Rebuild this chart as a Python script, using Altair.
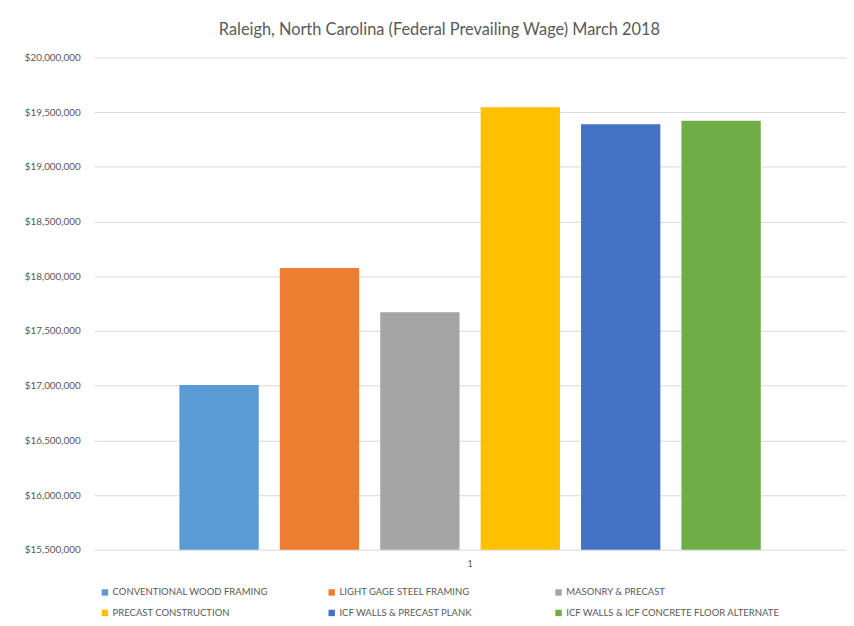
import altair as alt
import pandas as pd

TITLE = "Raleigh, North Carolina (Federal Prevailing Wage) March 2018"
series = [
    "CONVENTIONAL WOOD FRAMING",
    "LIGHT GAGE STEEL FRAMING",
    "MASONRY & PRECAST",
    "PRECAST CONSTRUCTION",
    "ICF WALLS & PRECAST PLANK",
    "ICF WALLS & ICF CONCRETE FLOOR ALTERNATE",
]
values = [17005000, 18075000, 17672000, 19545000, 19390000, 19422000]
colors = ["#5B9BD5", "#ED7D31", "#A5A5A5", "#FFC000", "#4472C4", "#70AD47"]
group = ["1"] * 6
y_min, y_max = 15500000, 20000000
y_ticks = list(range(15500000, 20000001, 500000))

df = pd.DataFrame({"group": group, "series": series, "value": values})
df["base"] = y_min

FONT = "Lato"
GRAY = "#595959"

chart = (
    alt.Chart(df)
    .mark_bar()
    .encode(
        x=alt.X(
            "group:N",
            scale=alt.Scale(paddingInner=0, paddingOuter=0.124),
            axis=alt.Axis(
                title=None, labelAngle=0, ticks=False, domain=False,
                labelColor=GRAY, labelFontSize=9, labelPadding=10, labelFont=FONT,
            ),
        ),
        xOffset=alt.XOffset(
            "series:N",
            sort=series,
            scale=alt.Scale(paddingInner=0.21, paddingOuter=0.105),
        ),
        y=alt.Y(
            "value:Q",
            scale=alt.Scale(domain=[y_min, y_max], zero=False, nice=False),
            axis=alt.Axis(
                title=None, values=y_ticks, format="$,.0f", ticks=False, domain=False,
                labelColor=GRAY, labelFontSize=10, labelPadding=14, labelFont=FONT,
                gridColor="#D9D9D9", gridWidth=1,
            ),
        ),
        y2="base:Q",
        color=alt.Color(
            "series:N",
            sort=series,
            scale=alt.Scale(domain=series, range=colors),
            legend=alt.Legend(
                title=None, orient="none", legendX=6, legendY=535, direction="horizontal",
                columns=3, gridAlign="all", columnPadding=0, rowPadding=10,
                symbolType="square", symbolSize=42, symbolStrokeWidth=0, symbolOffset=0,
                labelFont=FONT, labelFontSize=9.6, labelColor=GRAY, labelOffset=3,
                labelLimit=400,
            ),
        ),
    )
    .properties(
        width=759,
        height=497,
        title=alt.TitleParams(
            TITLE, fontSize=16.5, font=FONT, fontWeight="normal", color=GRAY,
            anchor="middle", dx=-31, offset=14,
        ),
        autosize=alt.AutoSizeParams(type="none"),
        padding={"left": 87, "top": 47, "right": 0, "bottom": 70},
    )
    .configure_view(stroke=None)
)

chart.save("out.html", embed_options={"renderer": "svg", "actions": False})
